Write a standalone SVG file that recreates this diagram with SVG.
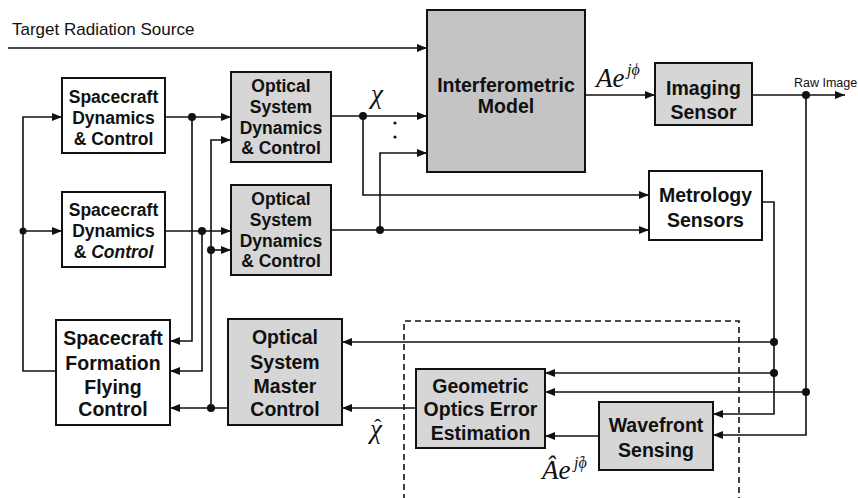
<svg xmlns="http://www.w3.org/2000/svg" width="858" height="498" viewBox="0 0 858 498">
<defs>
<marker id="ah" viewBox="0 0 10 8" markerWidth="10" markerHeight="8" refX="10" refY="4" orient="auto" markerUnits="userSpaceOnUse">
<path d="M0,0 L10,4 L0,8 z" fill="#111"/>
</marker>
<style>
.box{stroke:#111;stroke-width:2;fill:#fff}
.sh{stroke:#111;stroke-width:2;fill:#d6d6d6}
.dk{stroke:#111;stroke-width:2;fill:#c4c4c4}
.a{fill:none;stroke:#111;stroke-width:1.6;marker-end:url(#ah)}
.dot{fill:#111}
.t{font-family:"Liberation Sans",Arial,sans-serif;font-weight:bold;fill:#111;text-anchor:middle}
.s{font-size:17.5px}
.m{font-size:19.5px}
.r{font-family:"Liberation Sans",Arial,sans-serif;fill:#111}
.math{font-family:"Liberation Serif","DejaVu Serif",serif;font-style:italic;fill:#111}
.hat{font-style:normal}
</style>
</defs>
<rect width="858" height="498" fill="#fff"/>

<g id="connectors">
<path class="a" d="M8,48 H427"/>
<path class="a" d="M331,116 H427"/>
<path class="a" d="M363,116 V195 H649"/>
<path class="a" d="M331,230 H649"/>
<path class="a" d="M380,230 V153 H427"/>
<path class="a" d="M585,95 H655"/>
<path class="a" d="M752,95 H845"/>
<path class="a" d="M806,95 V435 H713"/>
<path class="a" d="M806,392 H545"/>
<path class="a" d="M762,202 H774 V414 H713"/>
<path class="a" d="M774,342 H342"/>
<path class="a" d="M774,373 H545"/>
<path class="a" d="M599,436 H545"/>
<path class="a" d="M416,408 H342"/>
<path class="a" d="M228,408 H170"/>
<path class="a" d="M211,408 V140 H231"/>
<path class="a" d="M211,250 H231"/>
<path class="a" d="M165,117 H231"/>
<path class="a" d="M192,117 V341 H170"/>
<path class="a" d="M165,231 H231"/>
<path class="a" d="M202,231 V371 H170"/>
<path class="a" d="M56,371 H23 V117 H62"/>
<path class="a" d="M23,231 H62"/>
<path d="M404,500 V321 H739 V500" fill="none" stroke="#111" stroke-width="1.6" stroke-dasharray="6,4"/>
<circle class="dot" cx="363" cy="116" r="4"/>
<circle class="dot" cx="380" cy="230" r="4"/>
<circle class="dot" cx="806" cy="95" r="4"/>
<circle class="dot" cx="806" cy="392" r="4"/>
<circle class="dot" cx="774" cy="342" r="4"/>
<circle class="dot" cx="774" cy="373" r="4"/>
<circle class="dot" cx="211" cy="408" r="4"/>
<circle class="dot" cx="211" cy="250" r="4"/>
<circle class="dot" cx="192" cy="117" r="4"/>
<circle class="dot" cx="202" cy="231" r="4"/>
<circle class="dot" cx="23" cy="231" r="3.5"/>
<circle class="dot" cx="395" cy="123" r="1.6"/>
<circle class="dot" cx="395" cy="137" r="1.6"/>
</g>

<text class="r" x="12" y="35" font-size="17">Target Radiation Source</text>
<text class="r" x="794" y="87" font-size="12.5">Raw Image</text>
<text class="math" x="371" y="103" font-size="27">χ</text>
<text class="math" x="596" y="87" font-size="27">Ae</text>
<text class="math" x="627" y="75" font-size="16">jϕ</text>
<text class="math" x="370" y="438" font-size="27">χ<tspan class="hat" x="374" y="434" font-size="22">ˆ</tspan></text>
<text class="math" x="542" y="479" font-size="27">Âe</text>
<text class="math" x="574" y="468" font-size="16">jϕ<tspan class="hat" x="580" y="466" font-size="14">ˆ</tspan></text>

<g id="sd1">
<rect class="box" x="62" y="78" width="103" height="75"/>
<text class="t s" x="113.5" y="103">Spacecraft</text>
<text class="t s" x="113.5" y="124">Dynamics</text>
<text class="t s" x="113.5" y="145">&amp; Control</text>
</g>
<g id="sd2">
<rect class="box" x="62" y="192" width="103" height="75"/>
<text class="t s" x="113.5" y="216">Spacecraft</text>
<text class="t s" x="113.5" y="237">Dynamics</text>
<text class="t s" x="113.5" y="258">&amp; <tspan font-style="italic">Control</tspan></text>
</g>
<g id="osdc1">
<rect class="sh" x="231" y="72" width="100" height="90"/>
<text class="t s" x="281" y="92">Optical</text>
<text class="t s" x="281" y="113">System</text>
<text class="t s" x="281" y="134">Dynamics</text>
<text class="t s" x="281" y="154">&amp; Control</text>
</g>
<g id="osdc2">
<rect class="sh" x="231" y="185" width="100" height="90"/>
<text class="t s" x="281" y="205">Optical</text>
<text class="t s" x="281" y="226">System</text>
<text class="t s" x="281" y="247">Dynamics</text>
<text class="t s" x="281" y="267">&amp; Control</text>
</g>
<g id="interferometric">
<rect class="dk" x="427" y="10" width="158" height="162"/>
<text class="t m" x="506" y="92">Interferometric</text>
<text class="t m" x="506" y="113">Model</text>
</g>
<g id="imaging">
<rect class="sh" x="655" y="63" width="97" height="62"/>
<text class="t m" x="703.5" y="95">Imaging</text>
<text class="t m" x="703.5" y="119">Sensor</text>
</g>
<g id="metrology">
<rect class="box" x="649" y="171" width="113" height="69"/>
<text class="t m" x="705.5" y="202">Metrology</text>
<text class="t m" x="705.5" y="227">Sensors</text>
</g>
<g id="sffc">
<rect class="box" x="56" y="320" width="114" height="105"/>
<text class="t m" x="113" y="345">Spacecraft</text>
<text class="t m" x="113" y="370">Formation</text>
<text class="t m" x="113" y="394">Flying</text>
<text class="t m" x="113" y="416">Control</text>
</g>
<g id="osmc">
<rect class="sh" x="228" y="319" width="114" height="106"/>
<text class="t m" x="285" y="344">Optical</text>
<text class="t m" x="285" y="369">System</text>
<text class="t m" x="285" y="393">Master</text>
<text class="t m" x="285" y="416">Control</text>
</g>
<g id="geometric">
<rect class="sh" x="416" y="369" width="129" height="79"/>
<text class="t m" x="480.5" y="393">Geometric</text>
<text class="t m" x="480.5" y="416">Optics Error</text>
<text class="t m" x="480.5" y="440">Estimation</text>
</g>
<g id="wavefront">
<rect class="sh" x="599" y="402" width="114" height="68"/>
<text class="t m" x="656" y="432">Wavefront</text>
<text class="t m" x="656" y="457">Sensing</text>
</g>
</svg>
